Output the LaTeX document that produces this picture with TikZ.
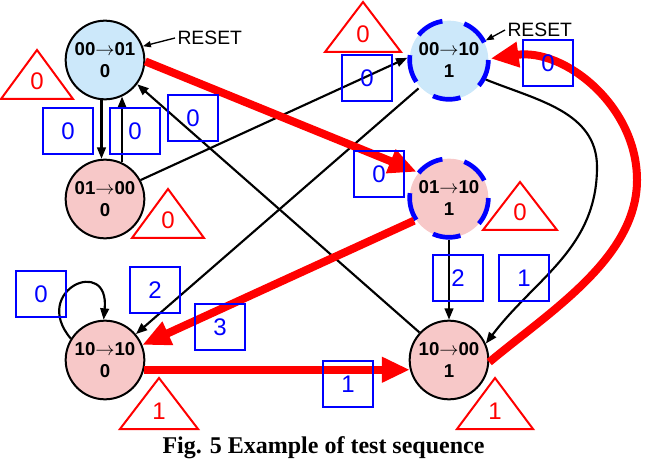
\documentclass[tikz,border=0pt]{standalone}
\usepackage{fontspec}
\setmainfont{Liberation Serif}
\setsansfont{Liberation Sans}
\usetikzlibrary{arrows.meta}

\definecolor{lblue}{RGB}{204,232,250}
\definecolor{lpink}{RGB}{247,200,200}

\tikzset{every picture/.style={line width=0.75pt}}
\tikzset{
  state/.style={circle, draw=black, line width=1.5pt, minimum size=59pt, inner sep=0pt, align=center,
    font=\sffamily\bfseries\fontsize{14}{16.5}\selectfont},
  stateblue/.style={state, fill=lblue},
  statepink/.style={state, fill=lpink},
  statedash/.style={draw=blue, line width=3.5pt, dash pattern=on 21pt off 16.7pt, dash phase=24.1pt},
  blk/.style={draw=black, line width=1.6pt, -{Triangle[length=8.5pt,width=6.5pt]}},
  rst/.style={draw=black, line width=1pt, -{Triangle[length=6pt,width=4.5pt]}},
  redarr/.style={draw=red, line width=6pt, -{Triangle[length=21pt,width=18pt]}},
  lbox/.style={draw=blue, line width=2pt, minimum width=37.5pt, minimum height=34.5pt, inner sep=0pt,
    text=blue, font=\sffamily\fontsize{18}{18}\selectfont},
  tri/.style={draw=red, line width=1.5pt, line join=miter},
  tritxt/.style={text=red, inner sep=0pt, font=\sffamily\fontsize{18}{18}\selectfont},
  resetlbl/.style={inner sep=1.5pt, anchor=west, font=\sffamily\fontsize{14.5}{14.5}\selectfont},
}

\begin{document}
\begin{tikzpicture}[x=0.75pt,y=0.75pt,yscale=-1,xscale=1]
\useasboundingbox (0,0) rectangle (645,459);

%Shape: Circle [states]
\node[stateblue] (A) at (105,60) {00$\rightarrow$01\\0};
\node[statepink] (B) at (105,199) {01$\rightarrow$00\\0};
\node[stateblue, statedash] (C) at (449,60) {00$\rightarrow$10\\1};
\node[statepink, statedash] (D) at (449,198) {01$\rightarrow$10\\1};
\node[statepink] (E) at (105,360) {10$\rightarrow$10\\0};
\node[statepink] (F) at (449,360) {10$\rightarrow$00\\1};

% Text Node
\node[resetlbl] (rA) at (175,38) {RESET};
% Text Node
\node[resetlbl] (rC) at (505,30) {RESET};
\draw[rst] (rA.west) -- (A.20);
\draw[rst] (rC.west) -- (C.28);

%Straight Lines
\draw[blk] (A.265) -- (B.95);
\draw[blk] (B.65) -- (A.295);
\draw[blk] (B.28) -- (C.177);
\draw[blk] (C.223) -- (E.40);
\draw[blk] (F.137) -- (A.323);
\draw[blk] (D.270) -- (F.90);
%Curve Lines (angles flipped by yscale=-1)
\draw[blk] (C.-28) to[out=22,in=-90] (597,167) to[out=90,in=-53] (F.24);
\draw[blk] (E.148) .. controls (30,290) and (110,255) .. (E.92);

%Straight Lines [test sequence]
\draw[redarr] (A.-2) -- (D.141);
\draw[redarr] (D.213) -- (E.22);
\draw[redarr] (E.-14) -- (F.194);
%Curve Lines
\draw[redarr] (F.-3) to[out=-40,in=90,looseness=0.85] (637,180) to[out=-90,in=-8] (C.2);

%Shape: Rectangle [inputs]
\node[lbox] (i1) at (68,131) {0};
\node[lbox] (i2) at (135,131) {0};
\node[lbox] (i3) at (193,118) {0};
\node[lbox] (i4) at (367,78) {0};
\node[lbox] (i5) at (548,63) {0};
\node[lbox] (i6) at (379,174) {0};
\node[lbox] (i7) at (41,294) {0};
\node[lbox] (i8) at (155,290) {2};
\node[lbox] (i9) at (220,327) {3};
\node[lbox] (i10) at (458,278) {2};
\node[lbox] (i11) at (524,278) {1};
\node[lbox] (i12) at (348,384) {1};

%Shape: Triangle [outputs]
\draw[tri] (37,50) -- ++(36,49) -- ++(-72,0) -- cycle;
\node[tritxt] (o1) at (37,81) {0};
\draw[tri] (168,189) -- ++(36,49) -- ++(-72,0) -- cycle;
\node[tritxt] (o2) at (168,220) {0};
\draw[tri] (363,2) -- ++(38,50) -- ++(-76,0) -- cycle;
\node[tritxt] (o3) at (363,34) {0};
\draw[tri] (520,182) -- ++(37,48) -- ++(-74,0) -- cycle;
\node[tritxt] (o4) at (520,212) {0};
\draw[tri] (159,378) -- ++(39,51) -- ++(-78,0) -- cycle;
\node[tritxt] (o5) at (159,411) {1};
\draw[tri] (495,378) -- ++(38,51) -- ++(-76,0) -- cycle;
\node[tritxt] (o6) at (495,411) {1};

% Text Node
\node[anchor=base, inner sep=0pt, font=\bfseries\fontsize{18}{18}\selectfont] (cap) at (323.5,453) {Fig. 5 Example of test sequence};

\end{tikzpicture}
\end{document}
